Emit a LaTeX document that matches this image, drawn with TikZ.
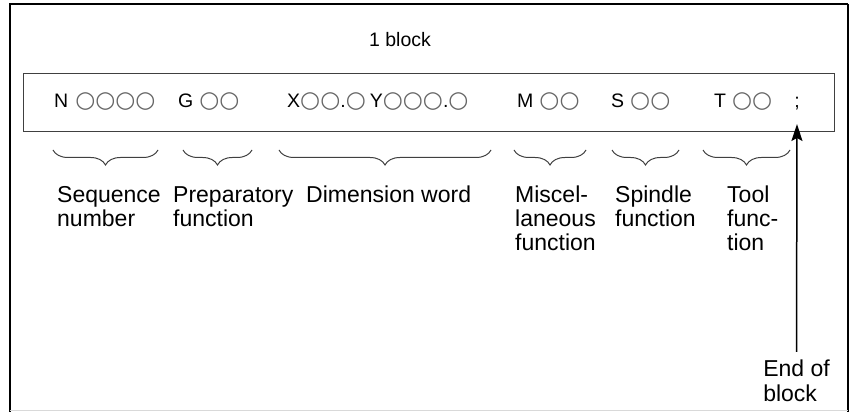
\documentclass[tikz,border=0pt]{standalone}
\usepackage{fontspec}
\setmainfont{Liberation Sans}
\newfontfamily\dv{DejaVu Sans}
\usetikzlibrary{decorations.pathreplacing,arrows.meta}
\newcommand\oo{{\dv\fontsize{23}{22}\selectfont\color{black!60}○}}
\begin{document}
\begin{tikzpicture}[x=1pt,y=1pt,
  boxtxt/.style={font=\fontsize{19.5}{22}\selectfont,inner sep=0,anchor=base west},
  lbl/.style={font=\fontsize{23}{24}\selectfont,inner sep=0,anchor=north west,align=left},
  brc/.style={draw=black!75,line width=1pt,decorate,decoration={brace,mirror,amplitude=15pt}}]
\useasboundingbox (0,0) rectangle (849,412);
% outer frame
\draw[line width=2pt] (9.5,0) -- (9.5,408) -- (848,408);
\draw[line width=1.3pt] (848,408) -- (848,0);
\draw[black!15,line width=1pt] (9.5,1) -- (848,1);
% header
\node[font=\fontsize{19.5}{22}\selectfont,inner sep=0,anchor=base] (hdr) at (400,365) {1 block};
% inner box
\node[draw=black!75,line width=1.3pt,minimum width=811pt,minimum height=58pt,inner sep=0,anchor=north west] (blk) at (23,339) {};
\node[boxtxt] (n) at (54,304) {N\hspace{7pt}\oo\oo\oo\oo};
\node[boxtxt] (g) at (178,304) {G\hspace{6pt}\oo\oo};
\node[boxtxt] (xy) at (287,304) {X\oo\oo.\oo\hspace{4pt}Y\oo\oo\oo.\oo};
\node[boxtxt] (m) at (517,304) {M\hspace{6pt}\oo\oo};
\node[boxtxt] (s) at (611,304) {S\hspace{6pt}\oo\oo};
\node[boxtxt] (t) at (714,304) {T\hspace{6pt}\oo\oo};
\node[font=\fontsize{19.5}{22}\selectfont,inner sep=0,anchor=base] (semi) at (797,304) {;};
% braces
\coordinate (b1l) at (53,262); \coordinate (b1r) at (158,262);
\coordinate (b2l) at (183,262); \coordinate (b2r) at (252,262);
\coordinate (b3l) at (279,262); \coordinate (b3r) at (491,262);
\coordinate (b4l) at (514,262); \coordinate (b4r) at (586,262);
\coordinate (b5l) at (612,262); \coordinate (b5r) at (679,262);
\coordinate (b6l) at (703,262); \coordinate (b6r) at (790,262);
\draw[brc] (b1l) -- (b1r);
\draw[brc] (b2l) -- (b2r);
\draw[brc] (b3l) -- (b3r);
\draw[brc] (b4l) -- (b4r);
\draw[brc] (b5l) -- (b5r);
\draw[brc] (b6l) -- (b6r);
% labels
\node[lbl] (l1) at (57,226) {Sequence\\number};
\node[lbl] (l2) at (173,226) {Preparatory\\function};
\node[lbl] (l3) at (306,226) {Dimension word};
\node[lbl] (l4) at (515,226) {Miscel-\\laneous\\function};
\node[lbl] (l5) at (615,226) {Spindle\\function};
\node[lbl] (l6) at (727,226) {Tool\\func-\\tion};
\node[font=\fontsize{23}{25}\selectfont,inner sep=0,anchor=north,align=left] (eob) at (796.5,52) {End of\\block};
\coordinate (tip) at (797,288);
\draw[line width=1.5pt,-{Stealth[length=17pt,width=11pt,inset=3pt]}] ([yshift=8pt]eob.north) -- (tip);
\end{tikzpicture}
\end{document}
